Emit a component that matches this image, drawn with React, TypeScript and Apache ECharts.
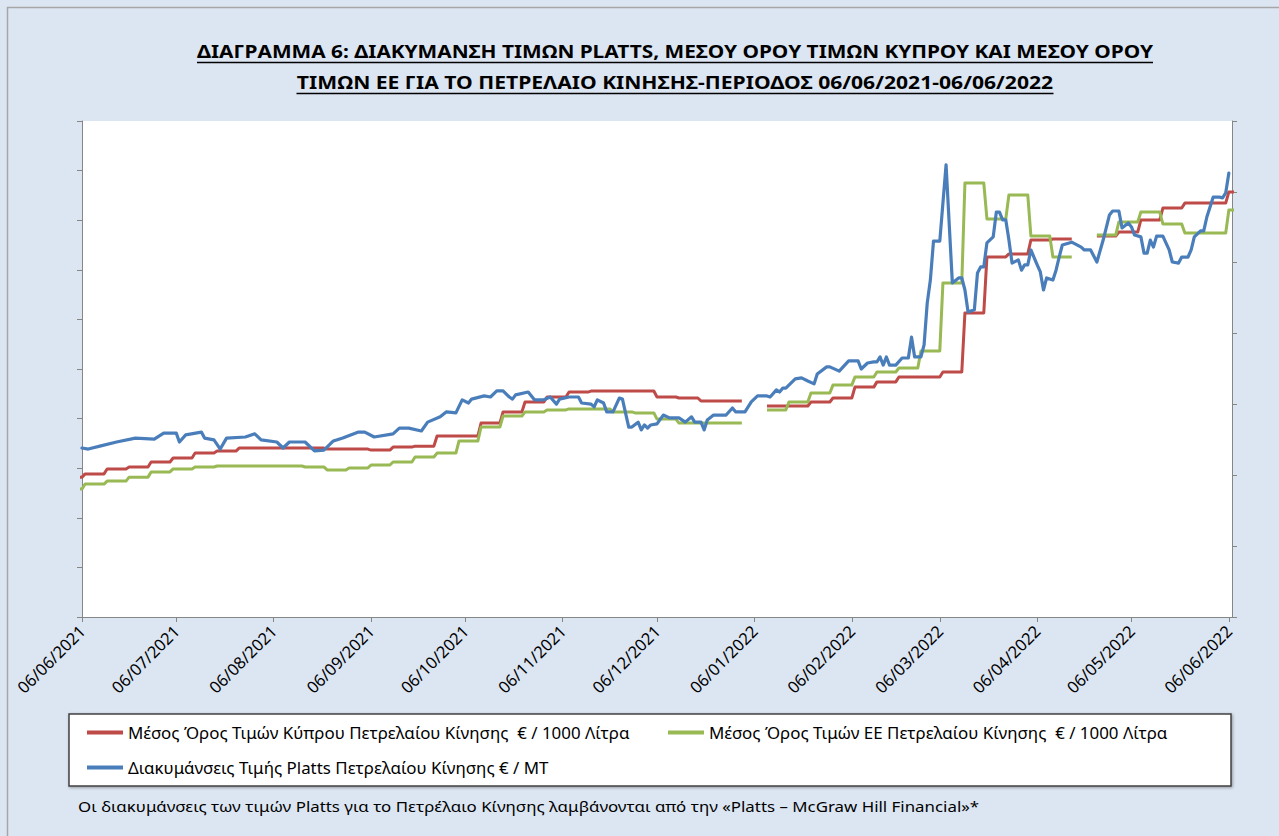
import React, { useEffect, useRef } from 'react';
import * as echarts from 'echarts';

const TITLE_LINES = [
  'ΔΙΑΓΡΑΜΜΑ 6: ΔΙΑΚΥΜΑΝΣΗ ΤΙΜΩΝ PLATTS, ΜΕΣΟΥ ΟΡΟΥ ΤΙΜΩΝ ΚΥΠΡΟΥ ΚΑΙ ΜΕΣΟΥ ΟΡΟΥ',
  'ΤΙΜΩΝ ΕΕ ΓΙΑ ΤΟ ΠΕΤΡΕΛΑΙΟ ΚΙΝΗΣΗΣ-ΠΕΡΙΟΔΟΣ 06/06/2021-06/06/2022',
];
const FOOTNOTE =
  'Οι διακυμάνσεις των τιμών Platts για το Πετρέλαιο Κίνησης λαμβάνονται από την «Platts – McGraw Hill Financial»*';
const SERIES_NAMES = [
  'Μέσος Όρος Τιμών Κύπρου Πετρελαίου Κίνησης  € / 1000 Λίτρα',
  'Μέσος Όρος Τιμών ΕΕ Πετρελαίου Κίνησης  € / 1000 Λίτρα',
  'Διακυμάνσεις Τιμής Platts Πετρελαίου Κίνησης € / MT',
];
const X_TICKS = [
  '2021-06-06', '2021-07-06', '2021-08-06', '2021-09-06', '2021-10-06', '2021-11-06', '2021-12-06',
  '2022-01-06', '2022-02-06', '2022-03-06', '2022-04-06', '2022-05-06', '2022-06-06',
];
const X_MIN = '2021-06-06';
const X_MAX = '2022-06-07';

// weekly averages (week starting Monday); null = no data that week
const WEEK_STARTS = [
  '2021-05-31', '2021-06-07', '2021-06-14', '2021-06-21', '2021-06-28', '2021-07-05', '2021-07-12', '2021-07-19',
  '2021-07-26', '2021-08-02', '2021-08-09', '2021-08-16', '2021-08-23', '2021-08-30', '2021-09-06', '2021-09-13',
  '2021-09-20', '2021-09-27', '2021-10-04', '2021-10-11', '2021-10-18', '2021-10-25', '2021-11-01', '2021-11-08',
  '2021-11-15', '2021-11-22', '2021-11-29', '2021-12-06', '2021-12-13', '2021-12-20', '2021-12-27', '2022-01-03',
  '2022-01-10', '2022-01-17', '2022-01-24', '2022-01-31', '2022-02-07', '2022-02-14', '2022-02-21', '2022-02-28',
  '2022-03-07', '2022-03-14', '2022-03-21', '2022-03-28', '2022-04-04', '2022-04-11', '2022-04-18', '2022-04-25',
  '2022-05-02', '2022-05-09', '2022-05-16', '2022-05-23', '2022-05-30', '2022-06-06',
];
const CYPRUS_AVG = [
  564, 577, 597, 605, 625, 641, 661, 669, 681, 681, 681, 681, 677, 677, 673, 685,
  689, 730, 730, 782, 827, 867, 887, 907, 911, 911, 911, 887, 883, 871, 871, null,
  851, 851, 867, 883, 927, 948, 968, 968, 988, 1226, 1452, 1464, 1520, 1524, null, 1536,
  1552, 1601, 1649, 1669, 1669, 1714,
];
const EU_AVG = [
  516, 536, 548, 564, 585, 597, 605, 609, 609, 609, 609, 605, 593, 601, 613, 625,
  645, 661, 710, 766, 810, 827, 835, 839, 839, 827, 823, 798, 782, 782, 782, null,
  835, 867, 903, 935, 968, 988, 1004, 1073, 1347, 1750, 1605, 1702, 1536, 1452, null, 1540,
  1593, 1633, 1585, 1548, 1548, 1641,
];

const PLATTS_DATES = [
  '2021-06-06', '2021-06-08', '2021-06-12', '2021-06-17', '2021-06-23', '2021-06-29', '2021-07-02', '2021-07-06',
  '2021-07-07', '2021-07-09', '2021-07-14', '2021-07-15', '2021-07-18', '2021-07-20', '2021-07-22', '2021-07-28',
  '2021-07-31', '2021-08-02', '2021-08-07', '2021-08-09', '2021-08-11', '2021-08-16', '2021-08-19', '2021-08-22',
  '2021-08-25', '2021-08-28', '2021-09-02', '2021-09-04', '2021-09-07', '2021-09-13', '2021-09-15', '2021-09-18',
  '2021-09-22', '2021-09-24', '2021-09-28', '2021-09-30', '2021-10-03', '2021-10-05', '2021-10-07', '2021-10-08',
  '2021-10-12', '2021-10-14', '2021-10-16', '2021-10-18', '2021-10-20', '2021-10-21', '2021-10-22', '2021-10-26',
  '2021-10-28', '2021-10-31', '2021-11-02', '2021-11-04', '2021-11-05', '2021-11-08', '2021-11-11', '2021-11-12',
  '2021-11-15', '2021-11-16', '2021-11-17', '2021-11-19', '2021-11-20', '2021-11-22', '2021-11-24', '2021-11-25',
  '2021-11-27', '2021-11-28', '2021-11-30', '2021-12-01', '2021-12-02', '2021-12-03', '2021-12-04', '2021-12-06',
  '2021-12-08', '2021-12-10', '2021-12-13', '2021-12-15', '2021-12-17', '2021-12-18', '2021-12-20', '2021-12-21',
  '2021-12-22', '2021-12-24', '2021-12-28', '2021-12-30', '2021-12-31', '2022-01-03', '2022-01-05', '2022-01-07',
  '2022-01-10', '2022-01-11', '2022-01-13', '2022-01-14', '2022-01-15', '2022-01-16', '2022-01-19', '2022-01-21',
  '2022-01-23', '2022-01-25', '2022-01-26', '2022-01-29', '2022-01-30', '2022-02-02', '2022-02-05', '2022-02-08',
  '2022-02-09', '2022-02-11', '2022-02-13', '2022-02-14', '2022-02-15', '2022-02-16', '2022-02-17', '2022-02-18',
  '2022-02-20', '2022-02-22', '2022-02-24', '2022-02-25', '2022-02-26', '2022-02-28', '2022-03-01', '2022-03-02',
  '2022-03-03', '2022-03-04', '2022-03-06', '2022-03-08', '2022-03-10', '2022-03-12', '2022-03-13', '2022-03-14',
  '2022-03-15', '2022-03-17', '2022-03-18', '2022-03-19', '2022-03-20', '2022-03-21', '2022-03-23', '2022-03-24',
  '2022-03-25', '2022-03-26', '2022-03-27', '2022-03-28', '2022-03-29', '2022-03-31', '2022-04-01', '2022-04-02',
  '2022-04-03', '2022-04-04', '2022-04-06', '2022-04-07', '2022-04-08', '2022-04-09', '2022-04-11', '2022-04-12',
  '2022-04-13', '2022-04-14', '2022-04-17', '2022-04-20', '2022-04-21', '2022-04-23', '2022-04-25', '2022-04-27',
  '2022-04-29', '2022-04-30', '2022-05-02', '2022-05-03', '2022-05-05', '2022-05-06', '2022-05-07', '2022-05-09',
  '2022-05-10', '2022-05-11', '2022-05-12', '2022-05-13', '2022-05-14', '2022-05-16', '2022-05-18', '2022-05-19',
  '2022-05-21', '2022-05-22', '2022-05-24', '2022-05-25', '2022-05-26', '2022-05-28', '2022-05-29', '2022-05-30',
  '2022-06-01', '2022-06-03', '2022-06-04', '2022-06-05', '2022-06-06',
];
const PLATTS_VALUES = [
  477, 474, 483, 494, 505, 502, 519, 519,
  494, 514, 522, 505, 500, 474, 505, 508,
  517, 500, 494, 477, 494, 494, 469, 471,
  497, 505, 522, 522, 508, 517, 533, 533,
  525, 550, 565, 579, 576, 613, 604, 615,
  624, 621, 638, 638, 621, 615, 627, 635,
  613, 613, 621, 601, 615, 621, 621, 604,
  601, 593, 613, 604, 579, 579, 618, 615,
  536, 536, 550, 528, 542, 533, 542, 545,
  570, 562, 562, 550, 565, 550, 550, 528,
  556, 570, 570, 590, 579, 579, 607, 624,
  624, 621, 641, 635, 646, 646, 672, 675,
  666, 658, 686, 706, 706, 694, 723, 723,
  700, 717, 720, 720, 734, 711, 734, 711,
  711, 731, 731, 790, 734, 734, 768, 886,
  951, 1061, 1061, 1276, 943, 957, 957, 923,
  861, 867, 971, 988, 988, 1056, 1073, 1143,
  1143, 1121, 1121, 1064, 999, 1008, 979, 994,
  994, 1036, 994, 974, 923, 957, 951, 979,
  1016, 1050, 1058, 1044, 1036, 1036, 1002, 1064,
  1135, 1146, 1146, 1098, 1112, 1101, 1078, 1073,
  1027, 1027, 1064, 1044, 1075, 1075, 1036, 1002,
  999, 1016, 1016, 1036, 1073, 1090, 1090, 1129,
  1185, 1185, 1183, 1197, 1253,
];

const RED = '#BE4B48';
const GREEN = '#98B954';
const BLUE = '#4A7EBB';
const AXIS_GRAY = '#868686';
const FONT = '"Noto Sans", "Open Sans", sans-serif';

function parseDay(s: string): number {
  const [y, m, d] = s.split('-').map(Number);
  return new Date(y, m - 1, d).getTime();
}
function addDays(s: string, n: number): number {
  const [y, m, d] = s.split('-').map(Number);
  return new Date(y, m - 1, d + n).getTime();
}
function weeklySteps(starts: string[], values: (number | null)[]) {
  const out: any[] = [];
  starts.forEach((s, i) => {
    const v = values[i];
    if (v == null) {
      out.push([addDays(s, 3), '-']);
      return;
    }
    out.push([parseDay(s), v]);
    out.push([addDays(s, 6), v]);
  });
  return out;
}
const pad = (n: number) => (n < 10 ? '0' + n : '' + n);
function fmtDate(v: number) {
  const d = new Date(v);
  return pad(d.getDate()) + '/' + pad(d.getMonth() + 1) + '/' + d.getFullYear();
}

export default function App() {
  const ref = useRef<HTMLDivElement>(null);
  useEffect(() => {
    if (!ref.current) return;
    const chart = echarts.init(ref.current, undefined, { renderer: 'svg' });
    const ctx = document.createElement('canvas').getContext('2d')!;
    const measure = (t: string, font: string) => {
      ctx.font = font;
      return ctx.measureText(t).width;
    };

    const titleFont = `bold 18px ${FONT}`;
    const titleTargets = [956, 757];
    const titleY = [51, 82];
    const titleEls: any[] = [];
    TITLE_LINES.forEach((t, i) => {
      const w = measure(t, titleFont);
      const sx = titleTargets[i] / w;
      const cx = 675;
      titleEls.push({
        type: 'text',
        x: cx,
        y: titleY[i],
        scaleX: sx,
        style: {
          text: t,
          fontSize: 18,
          fontWeight: 'bold',
          fontFamily: FONT,
          fill: '#000',
          align: 'center',
          verticalAlign: 'middle',
        },
      });
      titleEls.push({
        type: 'line',
        shape: { x1: cx - titleTargets[i] / 2, y1: titleY[i] + 11.5, x2: cx + titleTargets[i] / 2, y2: titleY[i] + 11.5 },
        style: { stroke: '#000', lineWidth: 1.5 },
      });
    });

    const footFont = `15px ${FONT}`;
    const footW = measure(FOOTNOTE, footFont);

    const legendBase = 15;
    const legendFontSize = (legendBase * 502) / measure(SERIES_NAMES[0], `${legendBase}px ${FONT}`);

    const tickVals = X_TICKS.map(parseDay);

    const cyprus = weeklySteps(WEEK_STARTS, CYPRUS_AVG);
    const eu = weeklySteps(WEEK_STARTS, EU_AVG);
    const platts = PLATTS_DATES.map((d, i) => [parseDay(d), PLATTS_VALUES[i]]);

    const yAxisCommon = {
      type: 'value',
      axisLine: { show: true, lineStyle: { color: AXIS_GRAY, width: 1 } },
      axisTick: { show: true, length: 5, lineStyle: { color: AXIS_GRAY } },
      axisLabel: { show: false },
      splitLine: { show: false },
    };

    chart.setOption({
      animation: false,
      backgroundColor: 'transparent',
      grid: {
        left: 82,
        right: 47,
        top: 121,
        bottom: 219,
        show: true,
        backgroundColor: '#ffffff',
        borderWidth: 0,
      },
      xAxis: {
        type: 'value',
        min: parseDay(X_MIN),
        max: parseDay(X_MAX),
        axisLine: { show: true, lineStyle: { color: AXIS_GRAY, width: 1 } },
        axisTick: { show: true, length: 5, customValues: tickVals, lineStyle: { color: AXIS_GRAY } },
        axisLabel: {
          customValues: tickVals,
          rotate: 45,
          formatter: (v: number) => fmtDate(v),
          color: '#000',
          fontSize: 16.5,
          fontFamily: FONT,
          margin: 11,
          hideOverlap: false,
        },
        splitLine: { show: false },
      },
      yAxis: [
        { ...yAxisCommon, position: 'left', min: 0, max: 2000, interval: 200 },
        { ...yAxisCommon, position: 'right', min: 0, max: 1400, interval: 200 },
      ],
      legend: {
        left: 69,
        top: 714,
        orient: 'horizontal',
        width: 1130,
        padding: [1, 42, 1, 18],
        itemGap: 0,
        itemWidth: 36,
        itemHeight: 4,
        icon: 'rect',
        backgroundColor: '#ffffff',
        borderColor: '#404040',
        borderWidth: 1.5,
        shadowColor: 'rgba(0,0,0,0.35)',
        shadowBlur: 3,
        shadowOffsetX: 1,
        shadowOffsetY: 1,
        textStyle: { fontFamily: FONT, fontSize: legendFontSize, color: '#000', lineHeight: 35 },
        data: [
          { name: SERIES_NAMES[0], textStyle: { width: 540 } },
          { name: SERIES_NAMES[1], textStyle: { width: 480 } },
          { name: SERIES_NAMES[2] },
        ],
      },
      series: [
        {
          name: SERIES_NAMES[0],
          type: 'line',
          yAxisIndex: 0,
          data: cyprus,
          showSymbol: false,
          connectNulls: false,
          lineStyle: { color: RED, width: 3, join: 'round' },
          itemStyle: { color: RED },
        },
        {
          name: SERIES_NAMES[1],
          type: 'line',
          yAxisIndex: 0,
          data: eu,
          showSymbol: false,
          connectNulls: false,
          lineStyle: { color: GREEN, width: 3, join: 'round' },
          itemStyle: { color: GREEN },
        },
        {
          name: SERIES_NAMES[2],
          type: 'line',
          yAxisIndex: 1,
          data: platts,
          showSymbol: false,
          lineStyle: { color: BLUE, width: 3.2, join: 'round', cap: 'round' },
          itemStyle: { color: BLUE },
        },
      ],
      graphic: [
        {
          type: 'rect',
          shape: { x: 7.5, y: 7.5, width: 1300, height: 900 },
          style: { fill: 'none', stroke: '#A6A6A6', lineWidth: 1.5 },
          silent: true,
        },
        ...titleEls,
        {
          type: 'text',
          x: 78,
          y: 806,
          scaleX: 902 / footW,
          style: {
            text: FOOTNOTE,
            fontSize: 15,
            fontFamily: FONT,
            fill: '#000',
            align: 'left',
            verticalAlign: 'middle',
          },
        },
      ],
    });
    return () => chart.dispose();
  }, []);

  return (
    <div
      style={{ position: 'absolute', left: 0, top: 0, width: 1279, height: 836, background: '#DCE6F2', overflow: 'hidden' }}
    >
      <div ref={ref} style={{ width: 1279, height: 836 }} />
    </div>
  );
}
